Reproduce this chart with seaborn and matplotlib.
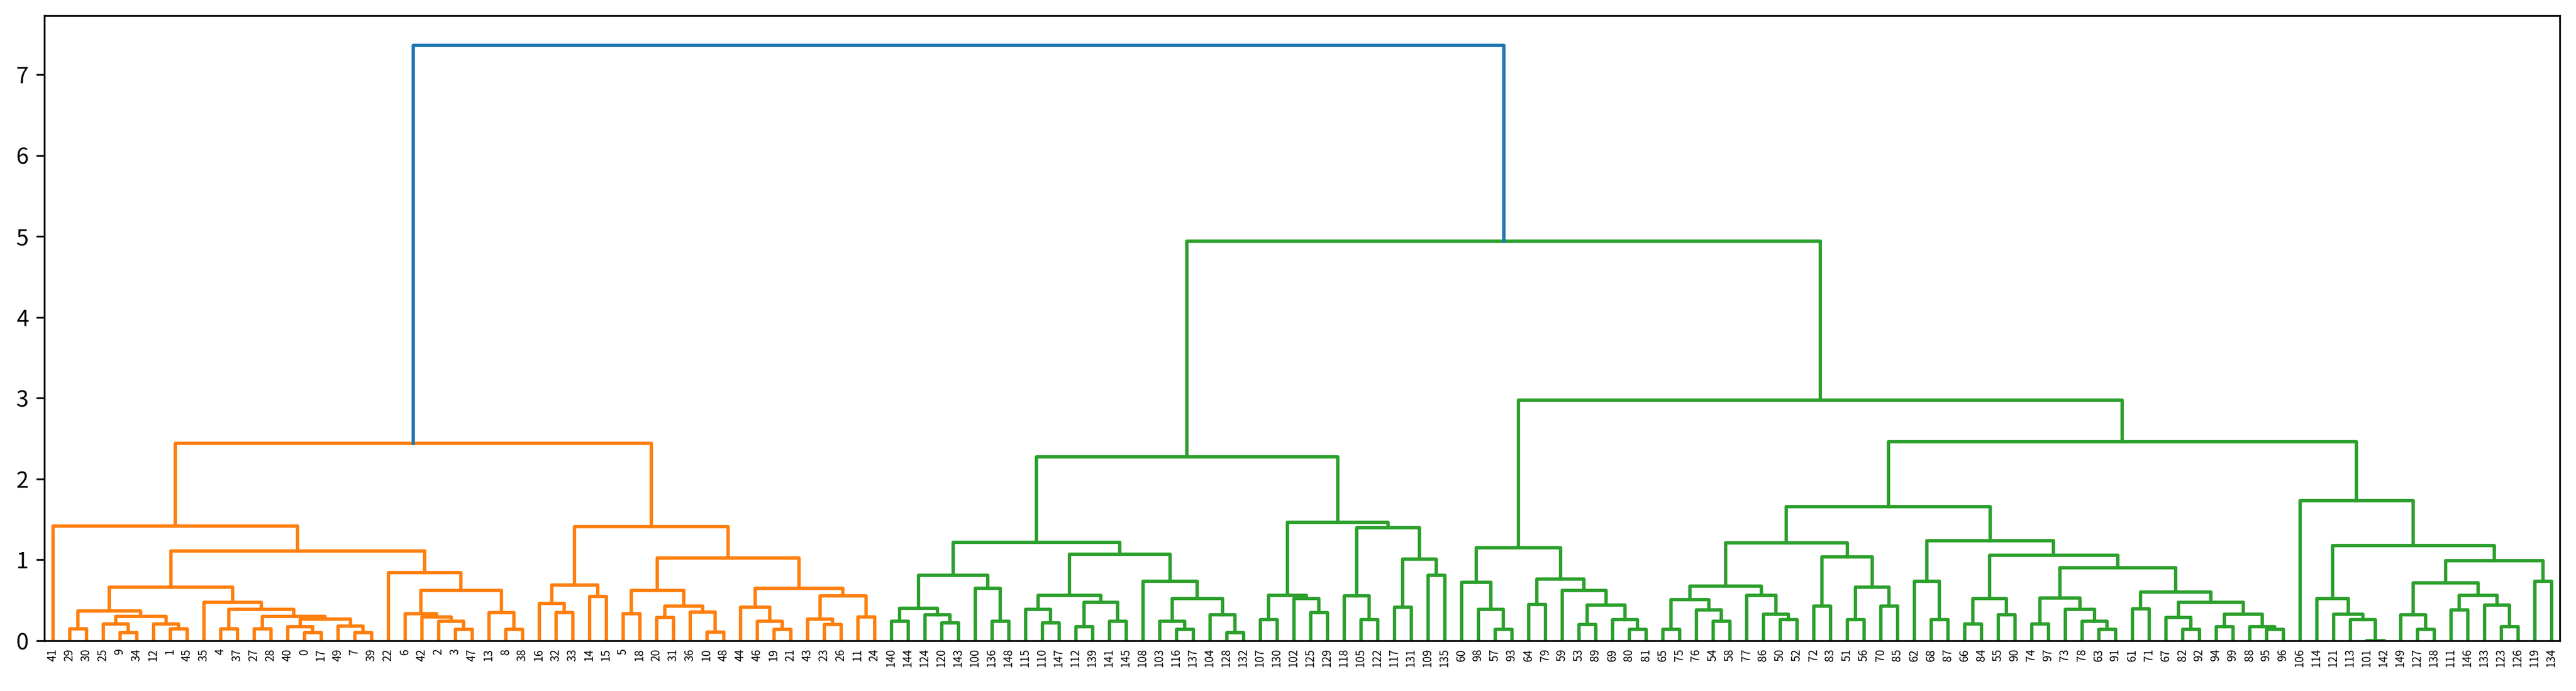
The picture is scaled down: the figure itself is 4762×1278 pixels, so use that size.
import matplotlib
matplotlib.use('Agg')
import matplotlib.pyplot as plt
import seaborn as sns
import pandas as pd

# Dendrogramm-Daten: jeder Knoten ist (links, rechts, Höhe), Blätter sind Proben-IDs
setosa_a1 = ((29, 30, 0.146), ((25, (9, 34, 0.10), 0.206), (12, (1, 45, 0.146), 0.206), 0.30), 0.37)
setosa_a2 = (35, ((4, 37, 0.146), ((27, 28, 0.146), ((40, (0, 17, 0.10), 0.177),
                                                    (49, (7, 39, 0.10), 0.18), 0.267), 0.30), 0.386), 0.475)
setosa_b = (22, ((6, (42, (2, (3, 47, 0.143), 0.244), 0.296), 0.336), (13, (8, 38, 0.143), 0.345), 0.62), 0.84)
setosa_c1 = ((5, 18, 0.336), ((20, 31, 0.285), (36, (10, 48, 0.105), 0.352), 0.43), 0.62)
setosa_c2 = ((44, (46, (19, 21, 0.143), 0.244), 0.413), ((43, (23, 26, 0.20), 0.267), (11, 24, 0.296), 0.554), 0.65)
setosa_d = ((16, (32, 33, 0.345), 0.464), (14, 15, 0.55), 0.688)

green_e1 = (((140, 144, 0.244), (124, (120, 143, 0.224), 0.318), 0.40), (100, (136, 148, 0.244), 0.65), 0.807)
green_e2 = (((115, (110, 147, 0.224), 0.39), ((112, 139, 0.177), (141, 145, 0.244), 0.475), 0.56),
            (108, ((103, (116, 137, 0.143), 0.244), (104, (128, 132, 0.10), 0.318), 0.52), 0.733), 1.07)
green_f = (((107, 130, 0.262), (102, (125, 129, 0.345), 0.52), 0.56),
           ((118, (105, 122, 0.262), 0.554), ((117, 131, 0.413), (109, 135, 0.807), 1.009), 1.395), 1.462)
green_g = ((60, (98, (57, 93, 0.143), 0.39), 0.722),
           ((64, 79, 0.446), (59, ((53, 89, 0.20), (69, (80, 81, 0.143), 0.262), 0.44), 0.62), 0.762), 1.148)
green_h1a = ((((65, 75, 0.143), (76, (54, 58, 0.244), 0.379), 0.509), (77, (86, (50, 52, 0.262), 0.33), 0.56), 0.677),
             ((72, 83, 0.426), ((51, 56, 0.262), (70, 85, 0.426), 0.66), 1.036), 1.21)
green_h1b = ((62, (68, 87, 0.262), 0.733),
             (((66, 84, 0.206), (55, 90, 0.323), 0.52),
              (((74, 97, 0.206), (73, (78, (63, 91, 0.143), 0.244), 0.39), 0.525),
               ((61, 71, 0.397), ((67, (82, 92, 0.143), 0.285),
                                  ((94, 99, 0.177), (88, (95, 96, 0.143), 0.177), 0.33), 0.475), 0.599), 0.906),
              1.054), 1.238)
green_h2 = (106, ((114, (121, (113, (101, 142, 0.0), 0.262), 0.33), 0.52),
                  (((149, (127, 138, 0.143), 0.318), ((111, 146, 0.379), (133, (123, 126, 0.177), 0.44), 0.56), 0.715),
                   (119, 134, 0.733), 0.99), 1.177), 1.731)

setosa = ((41, ((setosa_a1, setosa_a2, 0.66), setosa_b, 1.108), 1.417),
          (setosa_d, (setosa_c1, setosa_c2, 1.025), 1.41), 2.442)
green = (((green_e1, green_e2, 1.22), green_f, 2.276),
         (green_g, ((green_h1a, green_h1b, 1.656), green_h2, 2.46), 2.974), 4.945)
root_height = 7.363

cluster_colors = ['#ff7f0e', '#2ca02c']
above_color = '#1f77b4'
threshold = 0.7 * root_height


def build_links(tree):
    """Berechnet Blattpositionen und U-Verbindungen wie scipy.dendrogram"""
    leaves, rows = [], []
    palette = iter(cluster_colors)

    def walk(node, color):
        if isinstance(node, int):
            x = 5 + 10 * len(leaves)
            leaves.append(node)
            return x, 0.0
        left, right, h = node
        if h >= threshold:
            link_color, child_color = above_color, None
        else:
            link_color = color if color is not None else next(palette)
            child_color = link_color
        xl, yl = walk(left, child_color)
        xr, yr = walk(right, child_color)
        k = len(rows) // 4
        for x, y in [(xl, yl), (xl, h), (xr, h), (xr, yr)]:
            rows.append({'link': k, 'x': x, 'y': y, 'color': link_color})
        return (xl + xr) / 2, h

    walk(tree, None)
    return leaves, pd.DataFrame(rows)


leaves, links = build_links((setosa, green, root_height))

fig = plt.figure(figsize=(4762 / 300, 1278 / 300), dpi=300)
ax = fig.add_axes([82 / 4762, 1 - 1185 / 1278, (4732 - 82) / 4762, (1185 - 29) / 1278])
plt.rcParams['font.family'] = ['Noto Sans CJK KR', 'DejaVu Sans']

colors = links['color'].unique()
sns.lineplot(data=links, x='x', y='y', units='link', hue='color', palette={c: c for c in colors},
             estimator=None, sort=False, legend=False, linewidth=1.5, ax=ax)

ax.set_xlim(0, 10 * len(leaves))
ax.set_ylim(0, root_height * 1.05)
ax.set_xticks([5 + 10 * i for i in range(len(leaves))])
ax.set_xticklabels([str(l) for l in leaves], rotation=90, fontsize=5, family=['Noto Sans CJK KR', 'DejaVu Sans'])
ax.tick_params(axis='x', length=0)
for lab in ax.get_yticklabels():
    lab.set_family(['Noto Sans CJK KR', 'DejaVu Sans'])
ax.set_xlabel('')
ax.set_ylabel('')

fig.savefig('out.png', dpi=300)
plt.close(fig)
